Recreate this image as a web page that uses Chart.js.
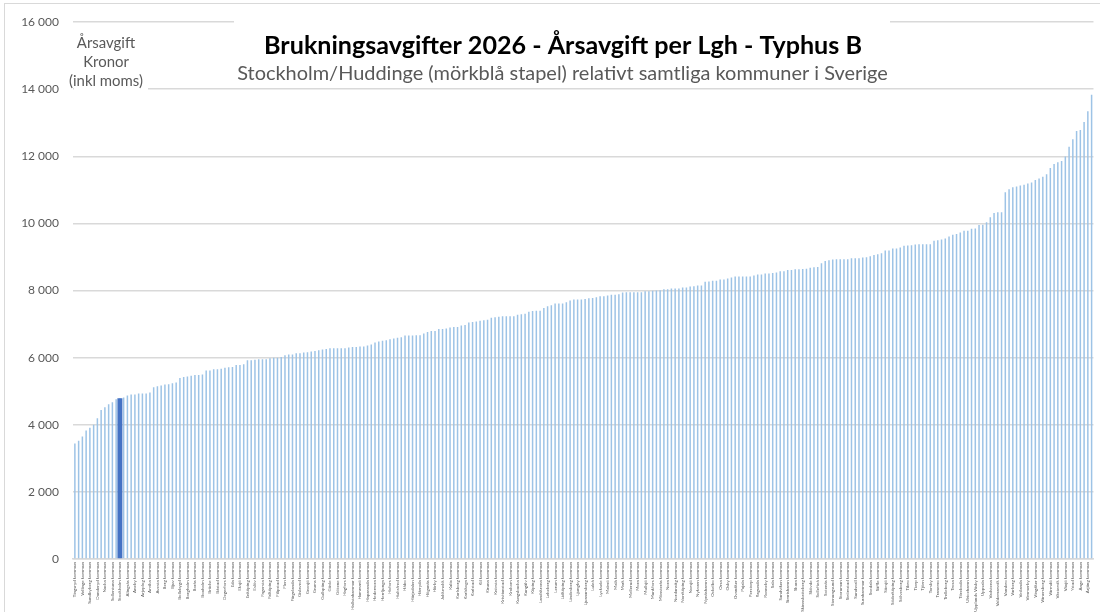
<!DOCTYPE html>
<html><head><meta charset="utf-8">
<script src="https://cdn.jsdelivr.net/npm/chart.js@4.4.1/dist/chart.umd.min.js"></script>
<style>html,body{margin:0;padding:0;background:#fff;}#wrap{width:1100px;height:612px;}</style>
</head><body><div id="wrap"><canvas id="c" width="1100" height="612"></canvas></div>
<script>
// ---- DATA ----
const titel = 'Brukningsavgifter 2026 - Årsavgift per Lgh - Typhus B';
const undertitel = 'Stockholm/Huddinge (mörkblå stapel) relativt samtliga kommuner i Sverige';
const axelTitel = ['Årsavgift', 'Kronor', '(inkl moms)'];
const yTicks = [0, 2000, 4000, 6000, 8000, 10000, 12000, 14000, 16000];
const markeradeKommuner = ['Stockholm'];

const avgifter = [
 3440,3520,3650,3830,3910,4000,4190,4440,4520,4610,
 4670,4760,4790,4810,4870,4900,4900,4930,4930,4930,
 4960,5120,5150,5170,5200,5210,5240,5260,5390,5420,
 5440,5460,5480,5480,5500,5620,5620,5650,5650,5670,
 5700,5710,5720,5780,5780,5800,5920,5920,5940,5950,
 5950,5950,5980,6000,6000,6020,6070,6090,6090,6130,
 6130,6150,6160,6180,6200,6220,6240,6260,6280,6280,
 6280,6280,6280,6300,6320,6320,6330,6330,6360,6390,
 6450,6480,6500,6520,6550,6570,6590,6610,6660,6660,
 6660,6670,6670,6720,6760,6790,6790,6850,6850,6870,
 6900,6910,6910,6960,6970,7050,7060,7080,7100,7110,
 7130,7190,7200,7220,7230,7230,7230,7230,7280,7290,
 7310,7370,7390,7400,7400,7480,7530,7560,7610,7610,
 7610,7650,7700,7730,7730,7730,7750,7770,7780,7800,
 7830,7830,7850,7870,7870,7890,7940,7950,7950,7950,
 7950,7950,7980,7980,7990,8000,8010,8040,8040,8060,
 8060,8060,8090,8090,8120,8130,8150,8150,8260,8270,
 8290,8290,8330,8330,8360,8390,8420,8420,8420,8420,
 8420,8450,8480,8480,8510,8510,8520,8540,8570,8570,
 8610,8610,8630,8630,8640,8650,8680,8690,8700,8810,
 8880,8900,8920,8930,8930,8930,8930,8960,8960,8960,
 8980,8990,9020,9060,9080,9110,9190,9190,9250,9250,
 9280,9330,9340,9350,9370,9380,9380,9380,9380,9480,
 9500,9520,9550,9610,9660,9680,9730,9780,9780,9840,
 9850,9950,9960,10030,10180,10310,10330,10330,10930,11020,
 11080,11100,11130,11150,11190,11220,11290,11340,11390,11460,
 11650,11770,11820,11860,11990,12280,12510,12750,12780,13020,
 13340,13830
];

const kommunNamn = [
 'Tingsryd','Solna','Vellinge','Lomma','Sundbyberg','Täby','Danderyd','Lidingö','Nacka','Järfälla',
 'Sollentuna','Huddinge','Stockholm','Ale','Alingsås','Alvesta','Aneby','Arboga','Arjeplog','Arvidsjaur',
 'Arvika','Askersund','Avesta','Bengtsfors','Berg','Bjurholm','Bjuv','Boden','Bollebygd','Bollnäs',
 'Borgholm','Borlänge','Borås','Botkyrka','Boxholm','Bromölla','Bräcke','Burlöv','Båstad','Dals-Ed',
 'Degerfors','Dorotea','Eda','Ekerö','Eksjö','Emmaboda','Enköping','Eskilstuna','Eslöv','Essunga',
 'Fagersta','Falkenberg','Falköping','Falun','Filipstad','Finspång','Flen','Forshaga','Färgelanda','Gagnef',
 'Gislaved','Gnesta','Gnosjö','Gotland','Grums','Grästorp','Gullspång','Gällivare','Gävle','Göteborg',
 'Götene','Habo','Hagfors','Hallsberg','Hallstahammar','Halmstad','Hammarö','Haninge','Haparanda','Heby',
 'Hedemora','Helsingborg','Herrljunga','Hjo','Hofors','Hudiksvall','Hultsfred','Hylte','Håbo','Hällefors',
 'Härjedalen','Härnösand','Härryda','Hässleholm','Höganäs','Högsby','Hörby','Höör','Jokkmokk','Jönköping',
 'Kalix','Kalmar','Karlsborg','Karlshamn','Karlskoga','Karlskrona','Karlstad','Katrineholm','Kil','Kinda',
 'Kiruna','Klippan','Knivsta','Kramfors','Kristianstad','Kristinehamn','Krokom','Kumla','Kungsbacka','Kungsör',
 'Kungälv','Kävlinge','Köping','Laholm','Landskrona','Laxå','Lekeberg','Leksand','Lerum','Lessebo',
 'Lidköping','Lilla Edet','Lindesberg','Linköping','Ljungby','Ljusdal','Ljusnarsberg','Ludvika','Luleå','Lund',
 'Lycksele','Lysekil','Malmö','Malung-Sälen','Malå','Mariestad','Mark','Markaryd','Mellerud','Mjölby',
 'Mora','Motala','Mullsjö','Munkedal','Munkfors','Mölndal','Mönsterås','Mörbylånga','Nora','Norberg',
 'Nordanstig','Nordmaling','Norrköping','Norrtälje','Norsjö','Nybro','Nykvarn','Nyköping','Nynäshamn','Nässjö',
 'Ockelbo','Olofström','Orsa','Orust','Osby','Oskarshamn','Ovanåker','Oxelösund','Pajala','Partille',
 'Perstorp','Piteå','Ragunda','Robertsfors','Ronneby','Rättvik','Sala','Salem','Sandviken','Sigtuna',
 'Simrishamn','Sjöbo','Skara','Skellefteå','Skinnskatteberg','Skurup','Skövde','Smedjebacken','Sollefteå','Sorsele',
 'Sotenäs','Staffanstorp','Stenungsund','Storfors','Storuman','Strängnäs','Strömstad','Strömsund','Sundsvall','Sunne',
 'Surahammar','Svalöv','Svedala','Svenljunga','Säffle','Säter','Sävsjö','Söderhamn','Söderköping','Södertälje',
 'Sölvesborg','Tanum','Tibro','Tidaholm','Tierp','Timrå','Tjörn','Tomelilla','Torsby','Torsås',
 'Tranemo','Tranås','Trelleborg','Trollhättan','Trosa','Tyresö','Töreboda','Uddevalla','Ulricehamn','Umeå',
 'Upplands Väsby','Upplands-Bro','Uppsala','Uppvidinge','Vadstena','Vaggeryd','Valdemarsvik','Vallentuna','Vansbro','Vara',
 'Varberg','Vaxholm','Vetlanda','Vilhelmina','Vimmerby','Vindeln','Vingåker','Vårgårda','Vänersborg','Vännäs',
 'Värmdö','Värnamo','Västervik','Västerås','Växjö','Ydre','Ystad','Åmål','Ånge','Åre',
 'Årjäng','Åsele','Åstorp','Åtvidaberg','Älmhult','Älvdalen','Älvkarleby','Älvsbyn','Ängelholm','Öckerö',
 'Ödeshög','Örebro','Örkelljunga','Örnsköldsvik','Östersund','Österåker','Östhammar','Östra Göinge'
];

// ---- BUILD ----
const kategorier = kommunNamn.slice(0, avgifter.length).map(n => n + ' kommun');
const markerade = avgifter.map((v, i) => markeradeKommuner.includes(kommunNamn[i]) ? v : null);
const fmt = v => String(v).replace(/\B(?=(\d{3})+(?!\d))/g, ' ');

function fitSize(ctx, text, weight, family, targetW) {
  ctx.font = weight + ' 100px ' + family;
  return 100 * targetW / ctx.measureText(text).width;
}

const overlay = {
  id: 'overlay',
  afterDraw(chart) {
    const ctx = chart.ctx;
    ctx.save();
    ctx.strokeStyle = '#d9d9d9'; ctx.lineWidth = 1;
    ctx.strokeRect(4.5, 3.5, 1200, 700);
    ctx.fillStyle = '#fff';
    ctx.fillRect(74, 26, 74, 67);
    ctx.fillRect(234, 20, 656, 67);
    ctx.textAlign = 'center'; ctx.textBaseline = 'alphabetic';
    let s = fitSize(ctx, titel, 'bold', 'Lato', 598);
    ctx.font = 'bold ' + s.toFixed(2) + 'px Lato';
    ctx.fillStyle = '#000';
    ctx.fillText(titel, 563, 53.5);
    s = fitSize(ctx, undertitel, 'normal', 'Lato', 651);
    ctx.font = 'normal ' + s.toFixed(2) + 'px Lato';
    ctx.fillStyle = '#595959';
    ctx.fillText(undertitel, 562.5, 80);
    s = fitSize(ctx, axelTitel[2], 'normal', 'Lato', 74);
    ctx.font = 'normal ' + s.toFixed(2) + 'px Lato';
    ctx.textBaseline = 'middle';
    const ys = [43, 62, 81];
    axelTitel.forEach((t, i) => ctx.fillText(t, 106, ys[i]));
    ctx.restore();
  }
};

new Chart(document.getElementById('c'), {
  type: 'bar',
  data: {
    labels: kategorier,
    datasets: [
      { data: avgifter, backgroundColor: '#9dc3e6', barPercentage: 0.4, categoryPercentage: 1, grouped: false, order: 2 },
      { data: markerade, backgroundColor: '#4472c4', barPercentage: 1.33, categoryPercentage: 1, grouped: false, order: 1 }
    ]
  },
  options: {
    responsive: false, animation: false,
    layout: { padding: { top: 22, right: 1.5, left: 0, bottom: 0 } },
    plugins: { legend: { display: false }, tooltip: { enabled: false } },
    scales: {
      x: {
        grid: { display: false, drawTicks: false },
        border: { color: '#d9d9d9', width: 1.5 },
        ticks: {
          autoSkip: false, minRotation: 90, maxRotation: 90, padding: 3,
          color: '#595959', font: { family: 'Lato', size: 4.5 },
          callback: (v, i) => (i % 2 === 0 ? kategorier[i] : '')
        },
        afterFit(s) { s.height = 53; }
      },
      y: {
        min: 0, max: 16000,
        afterBuildTicks(s) { s.ticks = yTicks.map(v => ({ value: v })); },
        grid: { color: '#d9d9d9', lineWidth: 1.5, drawTicks: false },
        border: { display: false },
        ticks: { padding: 14, color: '#595959', font: { family: 'Lato', size: 12 }, callback: v => fmt(v) },
        afterFit(s) { s.width = 73; }
      }
    }
  },
  plugins: [overlay]
});
</script>
</body></html>
